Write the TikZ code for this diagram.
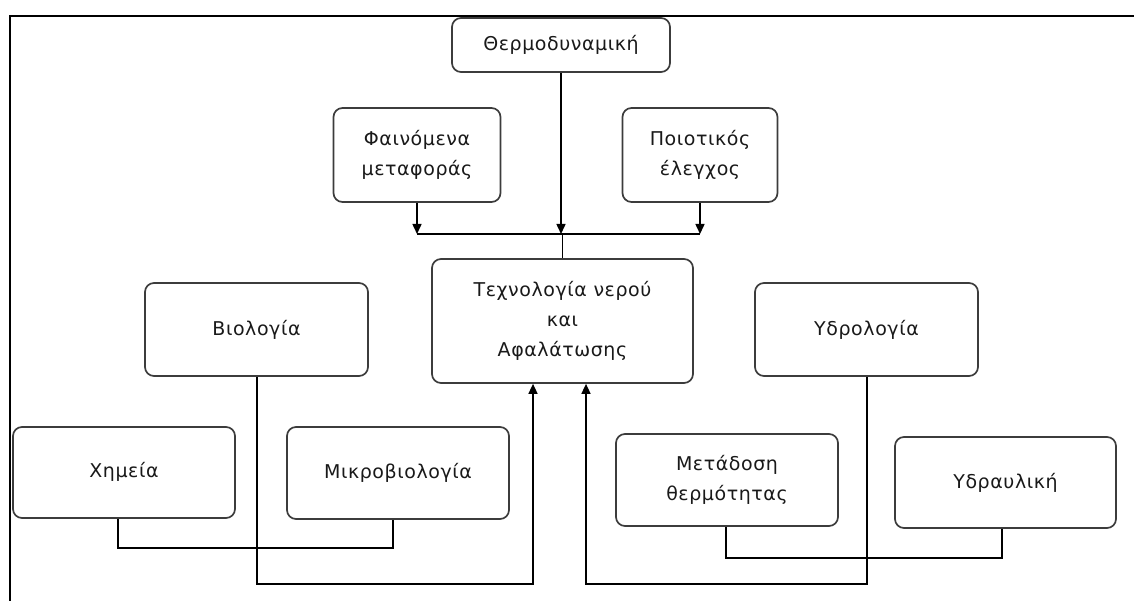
\documentclass[tikz,border=0pt]{standalone}
\usepackage{fontspec}
\setmainfont{DejaVu Sans}[LetterSpace=3]
\usetikzlibrary{arrows.meta}
\definecolor{boxline}{RGB}{60,60,60}
\definecolor{txt}{RGB}{25,25,25}
\tikzset{
  box/.style={draw=boxline, line width=1.7pt, rounded corners=9pt, inner sep=0pt,
    align=center, text=txt, font=\fontsize{19}{30}\selectfont},
  conn/.style={draw=black, line width=1.5pt},
  arr/.style={conn, -{Triangle[length=10pt,width=9pt]}},
  frameline/.style={draw=black, line width=2.4pt}
}
\begin{document}
\begin{tikzpicture}[x=1pt,y=-1pt]
\useasboundingbox (0,0) rectangle (1134,601);
\draw[frameline] (10,601) -- (10,16) -- (1134,16);

\node[box, minimum width=218pt, minimum height=54pt] (thermo) at (561,45) {Θερμοδυναμική};
\node[box, minimum width=167pt, minimum height=94pt] (phain) at (417,155) {Φαινόμενα\\μεταφοράς};
\node[box, minimum width=155pt, minimum height=94pt] (poiot) at (700,155) {Ποιοτικός\\έλεγχος};
\node[box, minimum width=261pt, minimum height=124pt] (central) at (562.5,321) {Τεχνολογία νερού\\και\\Αφαλάτωσης};
\node[box, minimum width=223pt, minimum height=93pt] (bio) at (256.5,329.5) {Βιολογία};
\node[box, minimum width=223pt, minimum height=93pt] (ydrol) at (866.5,329.5) {Υδρολογία};
\node[box, minimum width=222pt, minimum height=91pt] (chem) at (124,472.5) {\raisebox{5pt}{Χημεία}};
\node[box, minimum width=222pt, minimum height=92pt] (micro) at (398,473) {\raisebox{5pt}{Μικροβιολογία}};
\node[box, minimum width=222pt, minimum height=92pt] (metad) at (727,480) {Μετάδοση\\θερμότητας};
\node[box, minimum width=221pt, minimum height=91pt] (ydrau) at (1005.5,482.5) {Υδραυλική};

% top connectors
\coordinate (bar) at (563,234);
\draw[arr] (phain.south) -- (phain.south |- bar);
\draw[arr] (thermo.south) -- (thermo.south |- bar);
\draw[arr] (poiot.south) -- (poiot.south |- bar);
\draw[conn] (phain.south |- bar) -- (poiot.south |- bar);
\draw[conn] (central.north |- bar) -- (central.north);

% chemistry - microbiology
\coordinate (c1) at (118,548);
\coordinate (c2) at (393,548);
\draw[conn] (chem.south -| c1) -- (c1) -- (c2) -- (micro.south -| c2);

% biology -> central
\coordinate (b1) at (257,584);
\coordinate (b2) at (533,584);
\draw[arr] (bio.south -| b1) -- (b1) -- (b2) -- (central.south -| b2);

% hydrology -> central
\coordinate (h1) at (867,584);
\coordinate (h2) at (586,584);
\draw[arr] (ydrol.south -| h1) -- (h1) -- (h2) -- (central.south -| h2);

% heat transfer - hydraulics
\coordinate (m1) at (726,558);
\coordinate (m2) at (1002,558);
\draw[conn] (metad.south -| m1) -- (m1) -- (m2) -- (ydrau.south -| m2);
\end{tikzpicture}
\end{document}
